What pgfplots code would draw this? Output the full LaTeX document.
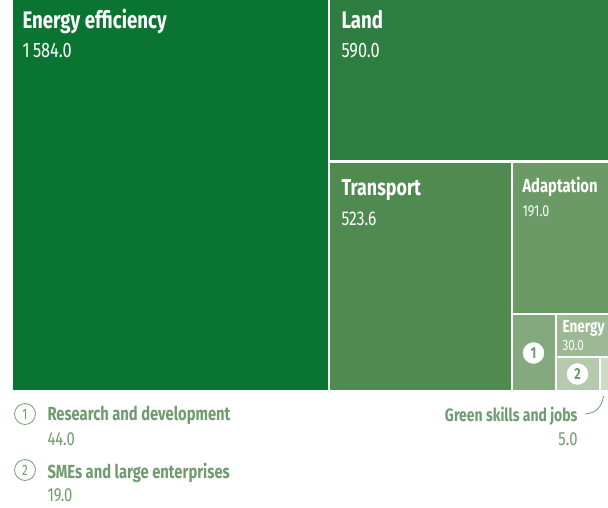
\documentclass[border=0pt]{standalone}
\usepackage{pgfplots}
\pgfplotsset{compat=1.18}
\usepackage{fontspec}
\setmainfont{Fira Sans}[FakeStretch=0.78]

\definecolor{cEE}{HTML}{0A7533}
\definecolor{cLand}{HTML}{2D7E40}
\definecolor{cTrans}{HTML}{4F8A50}
\definecolor{cAdapt}{HTML}{6B9A66}
\definecolor{cRD}{HTML}{84A97E}
\definecolor{cEnergy}{HTML}{9DB895}
\definecolor{cSME}{HTML}{B5C9AD}
\definecolor{cGreen}{HTML}{CCDAC6}
\definecolor{txt}{HTML}{6F9B6E}

\newcommand{\fs}[1]{\fontsize{#1}{#1}\selectfont}

\begin{document}
\begin{tikzpicture}
\begin{axis}[
    scale only axis,
    width=608bp, height=508bp,
    xmin=0, xmax=608, ymin=0, ymax=508,
    y dir=reverse,
    hide axis,
    clip=true,
]
% frame of the picture
\addplot[draw=none] coordinates {(0,0) (608,508)};

% tiles (pixel layout, values in labels)
\addplot[fill=cEE, draw=none] coordinates {(13,0) (328,0) (328,390) (13,390)} -- cycle;
\addplot[fill=cLand, draw=none] coordinates {(330,0) (608,0) (608,160) (330,160)} -- cycle;
\addplot[fill=cTrans, draw=none] coordinates {(330,162.5) (510.5,162.5) (510.5,390) (330,390)} -- cycle;
\addplot[fill=cAdapt, draw=none] coordinates {(512.5,162.5) (608,162.5) (608,313) (512.5,313)} -- cycle;
\addplot[fill=cRD, draw=none] coordinates {(512.5,315) (554.5,315) (554.5,390) (512.5,390)} -- cycle;
\addplot[fill=cEnergy, draw=none] coordinates {(556.5,315) (608,315) (608,356) (556.5,356)} -- cycle;
\addplot[fill=cSME, draw=none] coordinates {(556.5,358) (598.5,358) (598.5,390) (556.5,390)} -- cycle;
\addplot[fill=cGreen, draw=none] coordinates {(600.5,358) (608,358) (608,390) (600.5,390)} -- cycle;

% tile labels
\node[anchor=base west, white, font=\fs{24}\bfseries] at (axis cs:19,29) {Energy efficiency};
\node[anchor=base west, white, font=\fs{21}] at (axis cs:19,58) {1\,584.0};
\node[anchor=base west, white, font=\fs{24}\bfseries] at (axis cs:338,29) {Land};
\node[anchor=base west, white, font=\fs{21}] at (axis cs:338,58) {590.0};
\node[anchor=base west, white, font=\fs{23}\bfseries] at (axis cs:338,195) {Transport};
\node[anchor=base west, white, font=\fs{20}] at (axis cs:338,225) {523.6};
\node[anchor=base west, white, font=\fs{19}\bfseries] at (axis cs:519,192) {Adaptation};
\node[anchor=base west, white, font=\fs{16}] at (axis cs:519,216) {191.0};
\node[anchor=base west, white, font=\fs{17.5}\bfseries] at (axis cs:559,332) {Energy};
\node[anchor=base west, white, font=\fs{15}] at (axis cs:559,350) {30.0};

% numbered markers in small tiles
\addplot[only marks, mark=*, mark size=10.5, mark options={fill=white, draw=white},
    point meta=explicit symbolic, nodes near coords,
    every node near coord/.append style={anchor=center, text=txt, font=\fs{16}\bfseries}]
    coordinates {(533.5,353) [1] (577.5,374) [2]};

% legend below
\addplot[only marks, mark=o, mark size=10.5, mark options={draw=txt, line width=0.8pt},
    point meta=explicit symbolic, nodes near coords,
    every node near coord/.append style={anchor=center, text=txt, font=\fs{15}}]
    coordinates {(25,414) [1] (25,470) [2]};
\node[anchor=base west, txt, font=\fs{19}\bfseries] at (axis cs:44,420) {Research and development};
\node[anchor=base west, txt, font=\fs{19}] at (axis cs:44,445) {44.0};
\node[anchor=base west, txt, font=\fs{19}\bfseries] at (axis cs:44,478) {SMEs and large enterprises};
\node[anchor=base west, txt, font=\fs{19}] at (axis cs:44,501) {19.0};

\node[anchor=base east, txt, font=\fs{18}\bfseries] at (axis cs:581,421) {Green skills and jobs};
\node[anchor=base east, txt, font=\fs{19}] at (axis cs:581,445) {5.0};
\draw[txt, line width=0.8pt] (axis cs:585,414) .. controls (598,413) and (602,405) .. (603.5,396);
\end{axis}
\end{tikzpicture}
\end{document}
